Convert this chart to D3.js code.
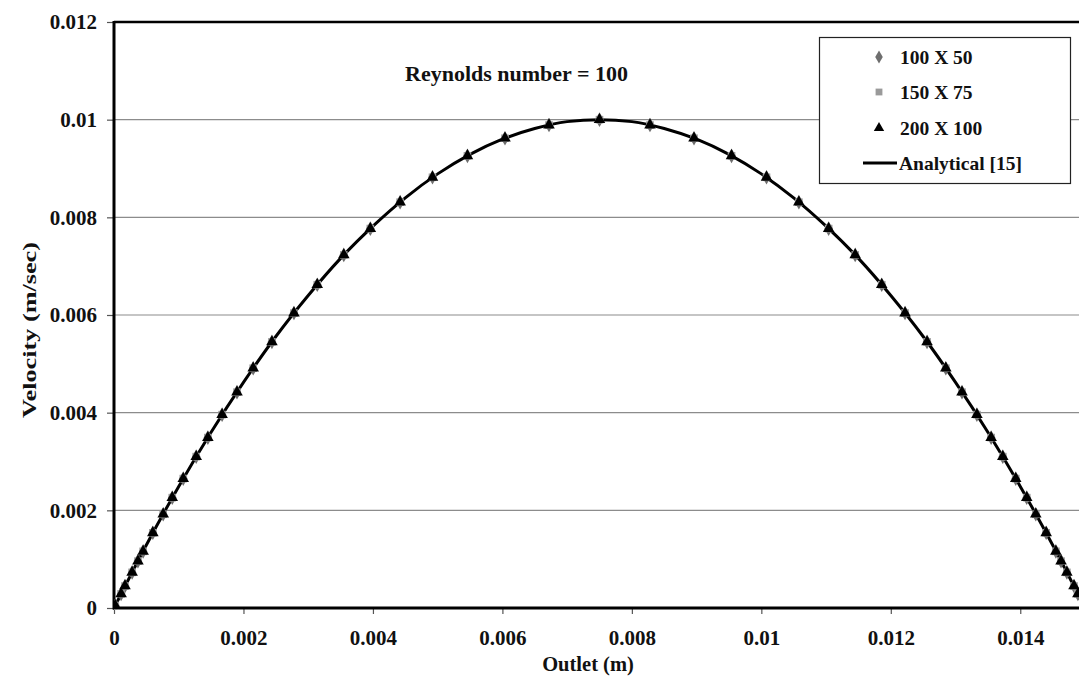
<!DOCTYPE html>
<html>
<head>
<meta charset="utf-8">
<script src="https://cdn.jsdelivr.net/npm/d3@7"></script>
<style>
  html, body { margin: 0; padding: 0; background: #fff; overflow: hidden; }
  text { font-family: "Liberation Serif", "Times New Roman", serif; font-weight: bold; fill: #111; }
</style>
</head>
<body>
<svg id="chart" width="1079" height="677"></svg>
<script>
// Outlet positions of the sampled nodes (m)
const outletX = [
  0.00002, 0.00011, 0.00017, 0.00028, 0.00037, 0.00045, 0.0006, 0.00076, 0.0009, 0.00107,
  0.00127, 0.00145, 0.00167, 0.0019, 0.00215, 0.00244, 0.00278, 0.00314, 0.00355, 0.00396,
  0.00442, 0.00492, 0.00546, 0.00604, 0.00672, 0.0075,
  0.00828, 0.00896, 0.00954, 0.01008, 0.01058, 0.01104, 0.01145, 0.01186, 0.01222, 0.01256,
  0.01285, 0.0131, 0.01333, 0.01355, 0.01373, 0.01393, 0.0141, 0.01424, 0.0144, 0.01455,
  0.01463, 0.01472, 0.01483, 0.01489, 0.01498
];

// Velocity for each grid (m/sec)
const vel100x50 = [
  0.00005, 0.00029, 0.00045, 0.00073, 0.00096, 0.00116, 0.00154, 0.00192, 0.00226, 0.00265,
  0.0031, 0.00349, 0.00396, 0.00442, 0.00491, 0.00545, 0.00604, 0.00662, 0.00723, 0.00777,
  0.00831, 0.00882, 0.00926, 0.00962, 0.00989, 0.01,
  0.00989, 0.00962, 0.00926, 0.00882, 0.00831, 0.00777, 0.00723, 0.00662, 0.00604, 0.00545,
  0.00491, 0.00442, 0.00396, 0.00349, 0.0031, 0.00265, 0.00226, 0.00192, 0.00154, 0.00116,
  0.00096, 0.00073, 0.00045, 0.00029, 0.00005
];
const vel150x75 = [
  0.00005, 0.00029, 0.00045, 0.00073, 0.00096, 0.00116, 0.00154, 0.00192, 0.00226, 0.00265,
  0.0031, 0.00349, 0.00396, 0.00442, 0.00491, 0.00545, 0.00604, 0.00662, 0.00723, 0.00777,
  0.00831, 0.00882, 0.00926, 0.00962, 0.00989, 0.01,
  0.00989, 0.00962, 0.00926, 0.00882, 0.00831, 0.00777, 0.00723, 0.00662, 0.00604, 0.00545,
  0.00491, 0.00442, 0.00396, 0.00349, 0.0031, 0.00265, 0.00226, 0.00192, 0.00154, 0.00116,
  0.00096, 0.00073, 0.00045, 0.00029, 0.00005
];
const vel200x100 = [
  0.00005, 0.00029, 0.00045, 0.00073, 0.00096, 0.00116, 0.00154, 0.00192, 0.00226, 0.00265,
  0.0031, 0.00349, 0.00396, 0.00442, 0.00491, 0.00545, 0.00604, 0.00662, 0.00723, 0.00777,
  0.00831, 0.00882, 0.00926, 0.00962, 0.00989, 0.01,
  0.00989, 0.00962, 0.00926, 0.00882, 0.00831, 0.00777, 0.00723, 0.00662, 0.00604, 0.00545,
  0.00491, 0.00442, 0.00396, 0.00349, 0.0031, 0.00265, 0.00226, 0.00192, 0.00154, 0.00116,
  0.00096, 0.00073, 0.00045, 0.00029, 0.00005
];

// Analytical profile [15]
const analyticalX = [
  0, 0.0005, 0.001, 0.0015, 0.002, 0.0025, 0.003, 0.0035, 0.004, 0.0045, 0.005,
  0.0055, 0.006, 0.0065, 0.007, 0.0075, 0.008, 0.0085, 0.009, 0.0095, 0.01,
  0.0105, 0.011, 0.0115, 0.012, 0.0125, 0.013, 0.0135, 0.014, 0.0145, 0.015
];
const analyticalVel = [
  0, 0.00129, 0.00249, 0.0036, 0.00462, 0.00556, 0.0064, 0.00716, 0.00782, 0.0084, 0.00889,
  0.00929, 0.0096, 0.00982, 0.00996, 0.01, 0.00996, 0.00982, 0.0096, 0.00929, 0.00889,
  0.0084, 0.00782, 0.00716, 0.0064, 0.00556, 0.00462, 0.0036, 0.00249, 0.00129, 0
];

const xTicks = [0, 0.002, 0.004, 0.006, 0.008, 0.01, 0.012, 0.014];
const yTicks = [0, 0.002, 0.004, 0.006, 0.008, 0.01, 0.012];
const seriesNames = ["100 X 50", "150 X 75", "200 X 100", "Analytical [15]"];

const svg = d3.select("#chart");
const W = 1079, H = 677;
const plot = { left: 114, right: 1085, top: 22, bottom: 608 };

const x = d3.scaleLinear().domain([0, 0.015]).range([plot.left, plot.right]);
const y = d3.scaleLinear().domain([0, 0.012]).range([plot.bottom, plot.top]);

svg.append("rect").attr("width", W).attr("height", H).attr("fill", "#fff");

svg.append("defs").append("clipPath").attr("id", "plotClip")
  .append("rect")
  .attr("x", plot.left).attr("y", plot.top - 2)
  .attr("width", plot.right - plot.left).attr("height", plot.bottom - plot.top + 4);

// Horizontal gridlines
svg.append("g")
  .selectAll("line")
  .data(yTicks.filter(d => d > 0 && d < 0.012))
  .join("line")
  .attr("x1", plot.left).attr("x2", W)
  .attr("y1", d => y(d)).attr("y2", d => y(d))
  .attr("stroke", "#8c8c8c").attr("stroke-width", 1.2);

// Axes
const fmt = d => d === 0 ? "0" : d3.format("")(+d.toFixed(3));

const xAxis = svg.append("g")
  .attr("transform", `translate(0,${plot.bottom})`)
  .call(d3.axisBottom(x).tickValues(xTicks).tickSize(6).tickPadding(16).tickFormat(fmt));
xAxis.select(".domain").remove();
xAxis.selectAll(".tick line").attr("stroke", "#555").attr("stroke-width", 1.2);
xAxis.selectAll(".tick text").attr("font-size", 21).attr("fill", "#111")
  .attr("font-family", "Liberation Serif").attr("font-weight", "bold");

const yAxis = svg.append("g")
  .attr("transform", `translate(${plot.left},0)`)
  .call(d3.axisLeft(y).tickValues(yTicks).tickSize(7).tickPadding(10).tickFormat(fmt));
yAxis.select(".domain").remove();
yAxis.selectAll(".tick line").attr("stroke", "#555").attr("stroke-width", 1.2);
yAxis.selectAll(".tick text").attr("font-size", 21).attr("fill", "#111")
  .attr("font-family", "Liberation Serif").attr("font-weight", "bold");

// Plot frame: top, left and bottom edges
svg.append("line").attr("x1", plot.left).attr("x2", W).attr("y1", plot.top).attr("y2", plot.top)
  .attr("stroke", "#000").attr("stroke-width", 2.5);
svg.append("line").attr("x1", plot.left).attr("x2", plot.left).attr("y1", plot.top - 1).attr("y2", plot.bottom + 1.5)
  .attr("stroke", "#000").attr("stroke-width", 3);
svg.append("line").attr("x1", plot.left - 1).attr("x2", W).attr("y1", plot.bottom).attr("y2", plot.bottom)
  .attr("stroke", "#000").attr("stroke-width", 3);

// Data layer
const layer = svg.append("g").attr("clip-path", "url(#plotClip)");

const line = d3.line()
  .x((d, i) => x(analyticalX[i]))
  .y(d => y(d))
  .curve(d3.curveMonotoneX);

layer.append("path")
  .datum(analyticalVel)
  .attr("d", line)
  .attr("fill", "none")
  .attr("stroke", "#000")
  .attr("stroke-width", 3);

const series = [
  { name: seriesNames[0], vals: vel100x50, shape: d3.symbolDiamond, size: 62, color: "#6e6e6e" },
  { name: seriesNames[1], vals: vel150x75, shape: d3.symbolSquare, size: 58, color: "#9a9a9a" },
  { name: seriesNames[2], vals: vel200x100, shape: d3.symbolTriangle, size: 58, color: "#000" }
];

series.forEach(s => {
  layer.append("g")
    .selectAll("path")
    .data(s.vals)
    .join("path")
    .attr("d", d3.symbol().type(s.shape).size(s.size))
    .attr("transform", (d, i) => `translate(${x(outletX[i])},${y(d)})`)
    .attr("fill", s.color);
});

// Annotation
svg.append("text")
  .attr("x", 405).attr("y", 81)
  .attr("font-size", 22)
  .text("Reynolds number = 100");

// Axis titles
svg.append("text")
  .attr("x", 588).attr("y", 671)
  .attr("text-anchor", "middle")
  .attr("font-size", 20.5)
  .text("Outlet (m)");

svg.append("text")
  .attr("transform", "translate(36,330) rotate(-90)")
  .attr("text-anchor", "middle")
  .attr("font-size", 18.5)
  .attr("textLength", 176)
  .attr("lengthAdjust", "spacingAndGlyphs")
  .text("Velocity (m/sec)");

// Legend
const lg = svg.append("g");
lg.append("rect")
  .attr("x", 819.5).attr("y", 37.5).attr("width", 251).attr("height", 146)
  .attr("fill", "#fff").attr("stroke", "#222").attr("stroke-width", 1.2);

const rowY = [57, 92, 128, 163];
series.forEach((s, i) => {
  lg.append("path")
    .attr("d", d3.symbol().type(s.shape).size(s.size * 0.8))
    .attr("transform", `translate(879,${rowY[i]})`)
    .attr("fill", s.color);
  lg.append("text")
    .attr("x", 900).attr("y", rowY[i] + 7)
    .attr("font-size", 19.5)
    .text(s.name);
});
lg.append("line")
  .attr("x1", 863).attr("x2", 897).attr("y1", rowY[3]).attr("y2", rowY[3])
  .attr("stroke", "#000").attr("stroke-width", 3);
lg.append("text")
  .attr("x", 899).attr("y", rowY[3] + 7)
  .attr("font-size", 19.5)
  .text(seriesNames[3]);
</script>
</body>
</html>
